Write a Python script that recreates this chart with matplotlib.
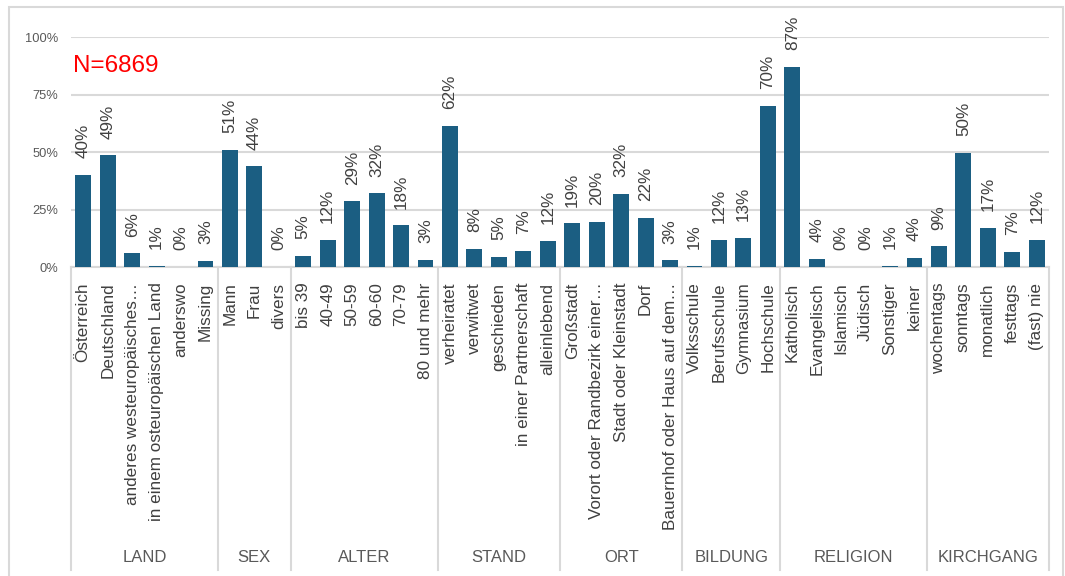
import matplotlib.pyplot as plt
from matplotlib.patches import Rectangle

plt.rcParams['font.family'] = ['Liberation Sans', 'DejaVu Sans']

groups = ['LAND', 'SEX', 'ALTER', 'STAND', 'ORT', 'BILDUNG', 'RELIGION', 'KIRCHGANG']
group_sizes = [6, 3, 6, 5, 5, 4, 6, 5]

labels = [
    'Österreich', 'Deutschland', 'anderes westeuropäisches…',
    'in einem osteuropäischen Land', 'anderswo', 'Missing',
    'Mann', 'Frau', 'divers',
    'bis 39', '40-49', '50-59', '60-60', '70-79', '80 und mehr',
    'verheiratet', 'verwitwet', 'geschieden', 'in einer Partnerschaft', 'alleinlebend',
    'Großstadt', 'Vorort oder Randbezirk einer…', 'Stadt oder Kleinstadt', 'Dorf',
    'Bauernhof oder Haus auf dem…',
    'Volksschule', 'Berufsschule', 'Gymnasium', 'Hochschule',
    'Katholisch', 'Evangelisch', 'Islamisch', 'Jüdisch', 'Sonstiger', 'keiner',
    'wochentags', 'sonntags', 'monatlich', 'festtags', '(fast) nie',
]
values = [
    40.1, 48.7, 6.1, 0.7, 0.2, 2.7,
    51.0, 43.9, 0.2,
    4.9, 11.9, 28.7, 32.2, 18.3, 3.2,
    61.6, 8.0, 4.6, 7.2, 11.6,
    19.1, 19.8, 31.9, 21.6, 3.0,
    0.6, 11.9, 12.9, 70.1,
    87.1, 3.6, 0.2, 0.1, 0.7, 4.0,
    9.1, 49.7, 17.1, 6.8, 11.9,
]

bar_color = '#1b5e82'
grid_color = '#d9d9d9'
text_color = '#404040'

fig = plt.figure(figsize=(10.65, 5.76), dpi=100)
fig.patches.append(Rectangle((9 / 1065, -0.1), 1054 / 1065, 1.1 - 7 / 576,
                             transform=fig.transFigure, fill=False,
                             edgecolor=grid_color, lw=1.5))

ax = fig.add_axes([71 / 1065, 1 - 267.3 / 576, 978 / 1065, 230 / 576])
x = list(range(len(values)))
ax.bar(x, values, width=0.65, color=bar_color, zorder=3)
ax.set_xlim(-0.5, len(values) - 0.5)
ax.set_ylim(0, 100)

yt = [0, 25, 50, 75, 100]
ax.set_yticks(yt)
ax.set_yticklabels([f'{t}%' for t in yt])
ax.grid(axis='y', color=grid_color, lw=1.5, zorder=0)
for side in ['top', 'right', 'left']:
    ax.spines[side].set_visible(False)
ax.spines['bottom'].set_color(grid_color)
ax.spines['bottom'].set_linewidth(1.5)

ax.set_xticks(x)
ax.set_xticklabels(labels, rotation=90, va='top', ha='center',
                   fontsize=12.3, color=text_color)
ax.tick_params(axis='x', length=0, pad=11)
ax.tick_params(axis='y', length=0, pad=9, labelsize=9.3, labelcolor='#595959')

# value labels
for i, v in enumerate(values):
    ax.annotate(f'{round(v)}%', (i, v), xytext=(0, 12), textcoords='offset points',
                rotation=90, ha='center', va='bottom', fontsize=12.3,
                color=text_color, clip_on=False)

# group separators and names
trans = ax.get_xaxis_transform()
bottom = -(570 - 267.3) / 230
start = 0
ax.plot([-0.5, -0.5], [0, bottom], color=grid_color, lw=1.5, transform=trans, clip_on=False)
for name, n in zip(groups, group_sizes):
    end = start + n
    ax.plot([end - 0.5, end - 0.5], [0, bottom], color=grid_color, lw=1.5,
            transform=trans, clip_on=False)
    ax.text((start + end - 1) / 2, -(557 - 267.3) / 230, name, transform=trans,
            ha='center', va='center', fontsize=12, color='#595959')
    start = end

fig.text(73 / 1065, 1 - 66 / 576, 'N=6869', color='red', fontsize=17.5,
         ha='left', va='center')

fig.savefig('out.png', dpi=100)
